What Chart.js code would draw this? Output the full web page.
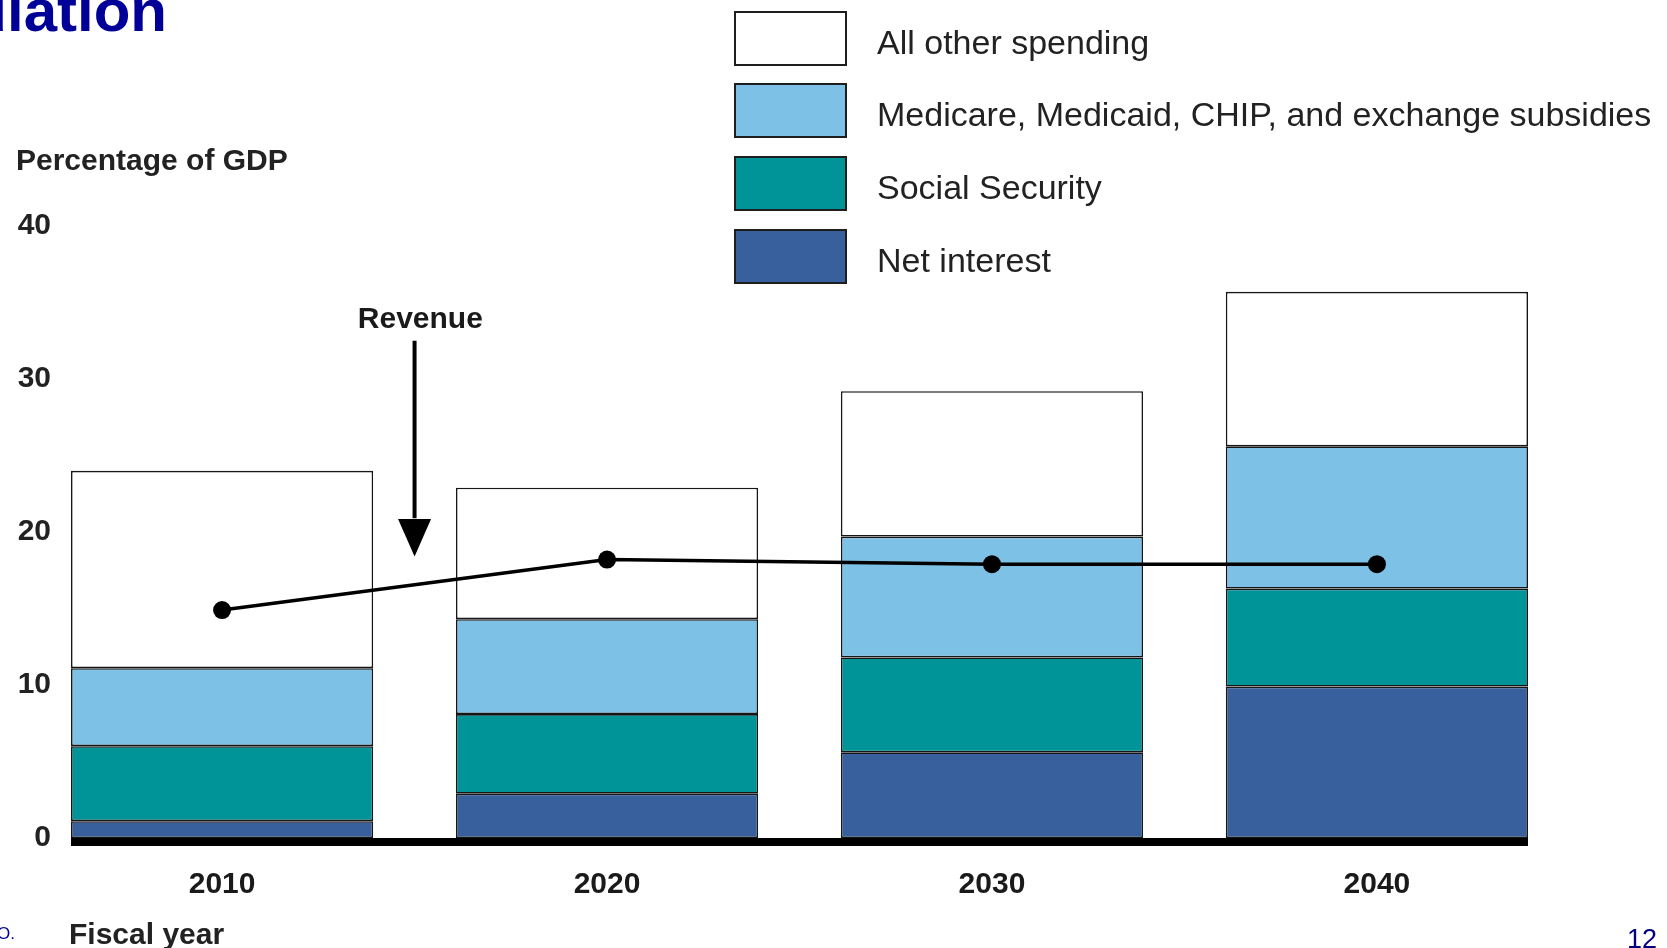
<!DOCTYPE html>
<html>
<head>
<meta charset="utf-8">
<script src="https://cdn.jsdelivr.net/npm/chart.js@4.4.0/dist/chart.umd.min.js"></script>
<style>
    html, body { margin: 0; padding: 0; background: #fff; overflow: hidden; }
    #wrap { position: relative; width: 1667px; height: 948px; font-family: "Liberation Sans", Arial, sans-serif; }
    #chart { position: absolute; left: 0; top: 0; }
    .txt { position: absolute; white-space: nowrap; line-height: 1; }
    .title  { right: 1500px; top: -19px; font-size: 60px; font-weight: bold; color: #000099; }
    .ytitle { left: 16px; top: 145px; font-size: 30px; font-weight: bold; color: #222; }
    .xtitle { left: 69px; top: 919px; font-size: 30px; font-weight: bold; color: #222; }
    .source { right: 1652px; top: 925px; font-size: 17px; color: #000099; }
    .page   { left: 1627px; top: 926px; font-size: 27px; color: #000080; }
    #legend { position: absolute; left: 734px; top: 10px; }
    .row { display: flex; align-items: center; height: 56px; margin-bottom: 16.7px; }
    .box { width: 109px; height: 51px; border: 2.5px solid #1e1e1e; }
    .lbl { margin-left: 30px; font-size: 34px; color: #222; transform: translateY(4px); }
</style>
</head>
<body>
<div id="wrap">
    <canvas id="chart" width="1667" height="948"></canvas>
    <div class="txt title">Accumulation</div>
    <div class="txt ytitle">Percentage of GDP</div>
    <div class="txt xtitle">Fiscal year</div>
    <div class="txt source">Source: CBO.</div>
    <div class="txt page">12</div>
    <div id="legend"></div>
</div>
<script>
// Federal spending by component and revenue, % of GDP
const years          = [2010, 2020, 2030, 2040];
const netInterest    = [1.1, 2.9, 5.6, 9.9];
const socialSecurity = [4.9, 5.2, 6.2, 6.4];
const healthPrograms = [5.1, 6.2, 7.9, 9.3];
const otherSpending  = [12.9, 8.6, 9.5, 10.1];
const revenue        = [14.9, 18.2, 17.9, 17.9];
const yTicks         = [0, 10, 20, 30, 40];

const BAR_FRACTION = 0.785;            // bar width as share of the decade gap
const HALF_BAR     = BAR_FRACTION * 5; // in years
const FONT         = '"Liberation Sans", Arial, sans-serif';

const pts = vals => years.map((x, i) => ({ x, y: vals[i] }));

function barSet(label, vals, color) {
    return {
        type: 'bar', label, data: pts(vals),
        backgroundColor: color, borderColor: '#161616', borderWidth: 1.6,
        borderSkipped: false, barPercentage: BAR_FRACTION, categoryPercentage: 1,
        order: 2
    };
}

// black base line under the bars + "Revenue" arrow note
const decorations = {
    id: 'decorations',
    afterDatasetsDraw(chart) {
        const { ctx, chartArea, scales: { x, y } } = chart;
        ctx.save();
        ctx.fillStyle = '#000';
        ctx.fillRect(chartArea.left, y.getPixelForValue(0), chartArea.right - chartArea.left, 8);

        const ax = x.getPixelForValue(2015);
        ctx.strokeStyle = '#000';
        ctx.lineWidth = 4;
        ctx.beginPath();
        ctx.moveTo(ax, y.getPixelForValue(32.5));
        ctx.lineTo(ax, y.getPixelForValue(20.9));
        ctx.stroke();
        ctx.beginPath();
        ctx.moveTo(ax - 16.5, y.getPixelForValue(20.85));
        ctx.lineTo(ax + 16.5, y.getPixelForValue(20.85));
        ctx.lineTo(ax, y.getPixelForValue(18.4));
        ctx.closePath();
        ctx.fill();

        ctx.font = 'bold 30px ' + FONT;
        ctx.fillStyle = '#1a1a1a';
        ctx.textAlign = 'center';
        ctx.textBaseline = 'alphabetic';
        ctx.fillText('Revenue', x.getPixelForValue(2015.15), y.getPixelForValue(33.35));
        ctx.restore();
    }
};

const chart = new Chart(document.getElementById('chart').getContext('2d'), {
    data: {
        datasets: [
            barSet('Net interest', netInterest, '#38609c'),
            barSet('Social Security', socialSecurity, '#009397'),
            barSet('Medicare, Medicaid, CHIP, and exchange subsidies', healthPrograms, '#7ec1e6'),
            barSet('All other spending', otherSpending, '#ffffff'),
            {
                type: 'line', label: 'Revenue', data: pts(revenue), stack: 'revenue',
                borderColor: '#000', borderWidth: 3.5, tension: 0,
                pointRadius: 9, pointBackgroundColor: '#000', pointBorderWidth: 0,
                order: 1
            }
        ]
    },
    options: {
        responsive: false, animation: false, devicePixelRatio: 1,
        layout: { padding: { top: 226, right: 139, left: 0, bottom: 0 } },
        plugins: { legend: { display: false }, tooltip: { enabled: false } },
        scales: {
            x: {
                type: 'linear', stacked: true, offset: false,
                min: years[0] - HALF_BAR, max: years[years.length - 1] + HALF_BAR,
                grid: { display: false, drawTicks: false, offset: false }, border: { display: false },
                afterBuildTicks: s => { s.ticks = years.map(v => ({ value: v })); },
                afterFit: s => { s.height = 110; },
                ticks: {
                    padding: 29, color: '#1a1a1a', font: { family: FONT, size: 30, weight: 'bold' },
                    callback: v => String(v)
                }
            },
            y: {
                stacked: true, min: 0, max: 40,
                grid: { display: false, drawTicks: false }, border: { display: false },
                afterBuildTicks: s => { s.ticks = yTicks.map(v => ({ value: v })); },
                afterFit: s => { s.width = 71; },
                ticks: { padding: 20, color: '#222', font: { family: FONT, size: 30, weight: 'bold' } }
            }
        }
    },
    plugins: [decorations]
});

// legend: spending components, top of the stack first
const legend = document.getElementById('legend');
chart.data.datasets.filter(d => d.type === 'bar').reverse().forEach(d => {
    const row = document.createElement('div');
    row.className = 'row';
    row.innerHTML = `<div class="box" style="background:${d.backgroundColor}"></div><div class="lbl">${d.label}</div>`;
    legend.appendChild(row);
});
</script>
</body>
</html>
